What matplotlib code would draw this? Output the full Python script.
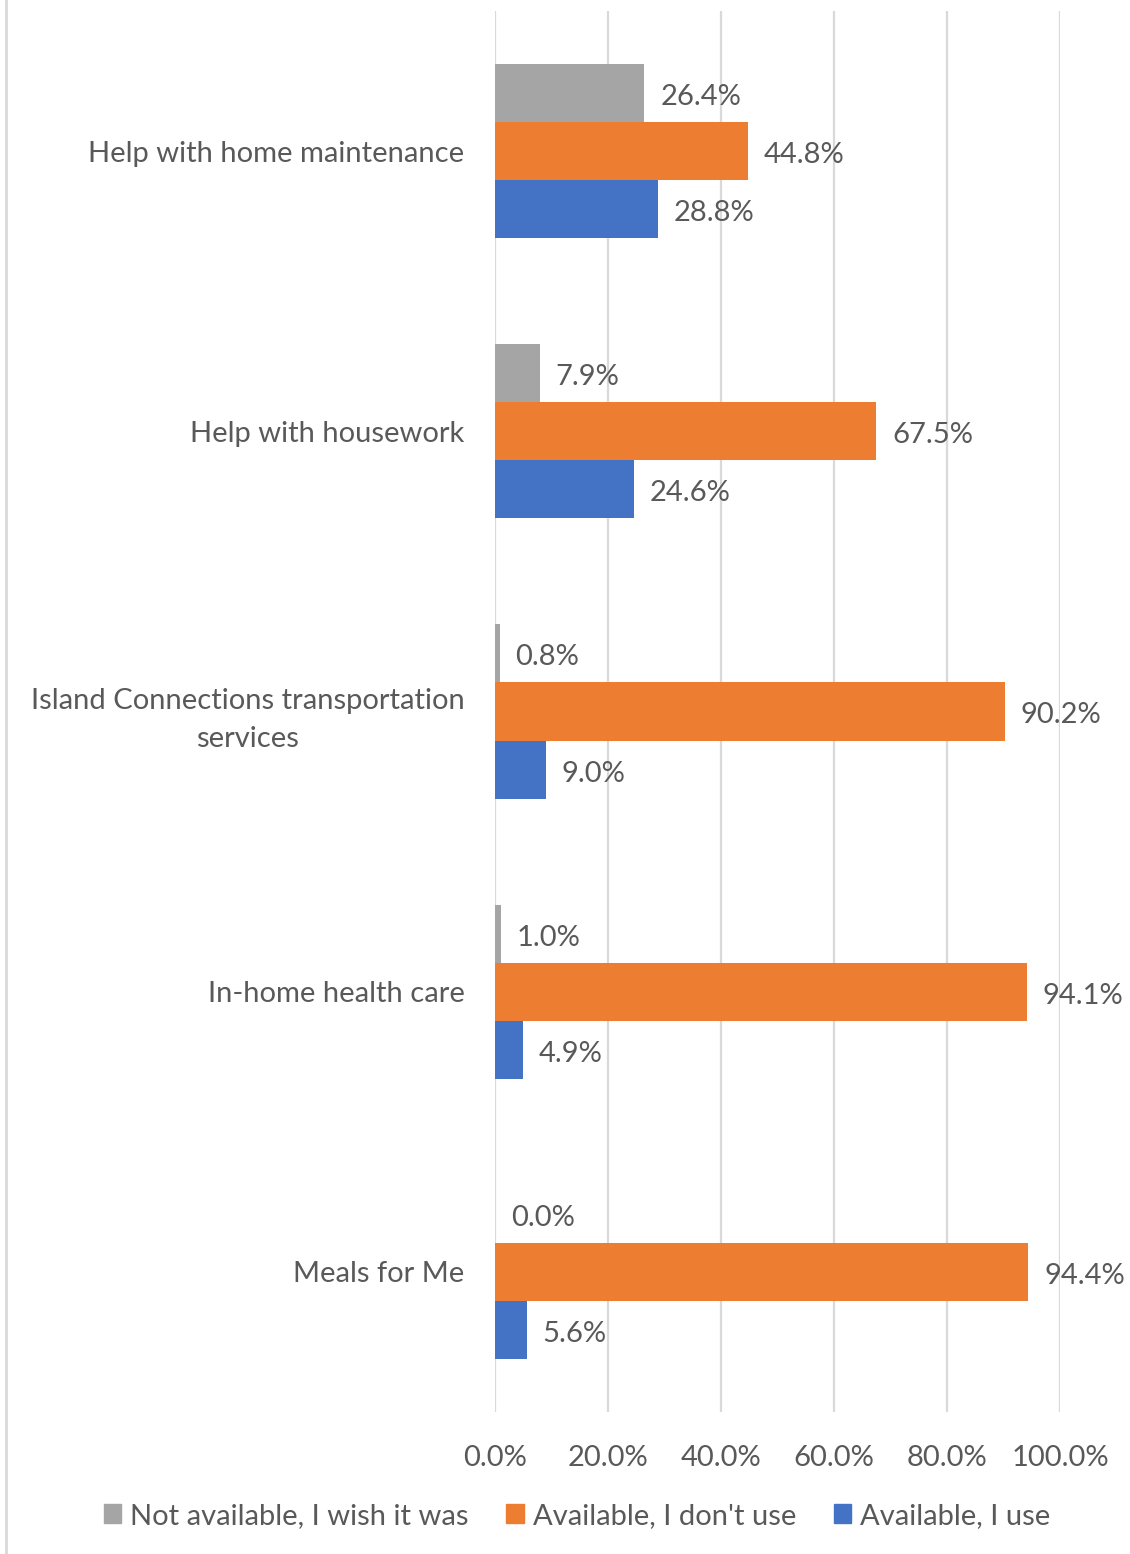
import matplotlib.pyplot as plt
import numpy as np
from matplotlib.lines import Line2D

categories = ['Help with home maintenance', 'Help with housework',
              'Island Connections transportation\nservices',
              'In-home health care', 'Meals for Me']
series_names = ['Not available, I wish it was', "Available, I don't use",
                'Available, I use']
not_available = [26.4, 7.9, 0.8, 1.0, 0.0]
available_not_used = [44.8, 67.5, 90.2, 94.1, 94.4]
available_used = [28.8, 24.6, 9.0, 4.9, 5.6]
x_ticks = [0, 20, 40, 60, 80, 100]

colors = ['#A5A5A5', '#ED7D31', '#4472C4']
text_color = '#595959'
grid_color = '#D9D9D9'
fs = 21
plt.rcParams['font.family'] = ['Lato', 'DejaVu Sans']

W, H = 1130, 1554
fig = plt.figure(figsize=(W / 100, H / 100), dpi=100)
ax = fig.add_axes([495 / W, 1 - 1412 / H, (1060 - 495) / W, (1412 - 11) / H])

y = np.arange(len(categories))
bar_h = 58 / 280
offsets = [-bar_h, 0, bar_h]
all_series = [not_available, available_not_used, available_used]

for values, off, color, name in zip(all_series, offsets, colors, series_names):
    ax.barh(y + off, values, height=bar_h, color=color, label=name, zorder=2)
    for yi, v in zip(y, values):
        ax.annotate(f'{v:.1f}%', xy=(v, yi + off), xytext=(16, -4),
                    textcoords='offset pixels', va='center', ha='left',
                    fontsize=fs, color=text_color)

ax.set_xlim(0, 100)
ax.set_ylim(len(categories) - 0.5, -0.5)
ax.set_xticks(x_ticks)
ax.set_xticklabels([f'{t:.1f}%' for t in x_ticks])
ax.set_yticks(y)
ax.set_yticklabels(categories, multialignment='center', linespacing=1.55)
ax.tick_params(axis='both', length=0, labelsize=fs, labelcolor=text_color)
ax.tick_params(axis='y', pad=22)
ax.tick_params(axis='x', pad=24)
ax.grid(axis='x', color=grid_color, linewidth=1.6, zorder=0)
ax.set_axisbelow(True)
for s in ax.spines.values():
    s.set_visible(False)

handles = [plt.Rectangle((0, 0), 1, 1, color=c) for c in colors]
fig.legend(handles, series_names, loc='center', bbox_to_anchor=(577 / W, 1 - 1516 / H),
           ncol=3, frameon=False, fontsize=fs, labelcolor=text_color,
           handlelength=0.6, handleheight=0.6, handletextpad=0.3, columnspacing=1.3)

# left border of the chart box
fig.add_artist(Line2D([6 / W, 6 / W], [0, 1], color=grid_color, linewidth=2,
                      transform=fig.transFigure))

fig.savefig('out.png', dpi=100)
